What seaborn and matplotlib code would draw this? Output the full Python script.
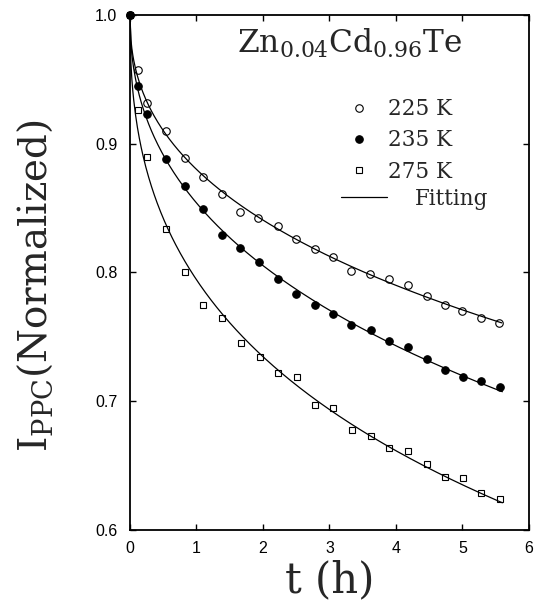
import numpy as np
import pandas as pd
import matplotlib
matplotlib.use("Agg")
import matplotlib.pyplot as plt
from matplotlib.lines import Line2D
import seaborn as sns

# Persistent photoconductivity decay, Zn0.04Cd0.96Te
t_225 = [0, 0.12, 0.25, 0.54, 0.82, 1.10, 1.38, 1.65, 1.93, 2.22, 2.50,
         2.78, 3.05, 3.33, 3.61, 3.89, 4.18, 4.46, 4.73, 5.00, 5.28, 5.55]
i_225 = [1.0, 0.957, 0.932, 0.910, 0.889, 0.874, 0.861, 0.847, 0.842, 0.836, 0.826,
         0.818, 0.812, 0.801, 0.799, 0.795, 0.790, 0.782, 0.775, 0.770, 0.765, 0.761]

t_235 = [0, 0.12, 0.25, 0.54, 0.82, 1.10, 1.39, 1.66, 1.94, 2.22, 2.50,
         2.78, 3.05, 3.33, 3.62, 3.90, 4.18, 4.46, 4.73, 5.01, 5.28, 5.56]
i_235 = [1.0, 0.945, 0.923, 0.888, 0.867, 0.849, 0.829, 0.819, 0.808, 0.795, 0.783,
         0.775, 0.768, 0.759, 0.755, 0.747, 0.742, 0.733, 0.724, 0.719, 0.716, 0.711]

t_275 = [0, 0.12, 0.26, 0.54, 0.82, 1.10, 1.39, 1.67, 1.95, 2.23, 2.51,
         2.78, 3.06, 3.34, 3.62, 3.90, 4.18, 4.46, 4.74, 5.01, 5.28, 5.56]
i_275 = [1.0, 0.926, 0.890, 0.834, 0.800, 0.775, 0.765, 0.745, 0.734, 0.722, 0.719,
         0.697, 0.695, 0.678, 0.673, 0.664, 0.661, 0.651, 0.641, 0.640, 0.629, 0.624]

labels = ["225 K", "235 K", "275 K"]
x_ticks = [0, 1, 2, 3, 4, 5, 6]
y_ticks = [0.6, 0.7, 0.8, 0.9, 1.0]
y_ticklabels = ["0.6", "0.7", "0.8", "0.9", "1.0"]

sns.set_style("ticks")
plt.rcParams["font.family"] = ["DejaVu Serif"]
plt.rcParams["mathtext.fontset"] = "dejavuserif"

fig = plt.figure(figsize=(5.34, 6.05), dpi=100)
ax = fig.add_axes([0.2434, 0.1240, 0.7472, 0.8512])


def stretched_fit(t, i):
    """Least-squares fit of I = exp(-(t/tau)^beta) by a grid search."""
    t = np.asarray(t, float)
    i = np.asarray(i, float)
    taus = np.logspace(-1, 4, 1500)[:, None]
    best = (np.inf, 1.0, 1.0)
    for beta in np.linspace(0.2, 1.0, 401):
        model = np.exp(-(t[None, :] / taus) ** beta)
        sse = ((model - i[None, :]) ** 2).sum(axis=1)
        k = int(np.argmin(sse))
        if sse[k] < best[0]:
            best = (sse[k], beta, taus[k, 0])
    _, beta, tau = best
    tt = np.linspace(0, t.max() + 0.04, 400)
    return tt, np.exp(-(tt / tau) ** beta)


series = [(t_225, i_225), (t_235, i_235), (t_275, i_275)]
for t, i in series:
    tt, ff = stretched_fit(t, i)
    sns.lineplot(x=tt, y=ff, ax=ax, color="black", linewidth=0.9, sort=False)

marker_styles = [
    dict(marker="o", markerfacecolor="none", markersize=5.4),
    dict(marker="o", markerfacecolor="black", markersize=5.4),
    dict(marker="s", markerfacecolor="none", markersize=5.0),
]
for (t, i), st in zip(series, marker_styles):
    df = pd.DataFrame({"t": t, "I": i})
    sns.lineplot(data=df, x="t", y="I", ax=ax, linestyle="", color="black",
                 markeredgecolor="black", markeredgewidth=0.8, clip_on=False, **st)

ax.set_xlim(0, 6)
ax.set_ylim(0.6, 1.0)
ax.set_xticks(x_ticks)
ax.set_yticks(y_ticks)
ax.set_yticklabels(y_ticklabels)
for lab in ax.get_xticklabels() + ax.get_yticklabels():
    lab.set_fontfamily("Liberation Sans")
    lab.set_fontsize(11.5)
ax.tick_params(direction="in", length=4, width=1.0, top=True, right=True,
               colors="black")
ax.tick_params(axis="x", pad=8)
ax.tick_params(axis="y", pad=9)
for sp in ax.spines.values():
    sp.set_linewidth(1.3)
    sp.set_color("black")

ax.set_xlabel("t (h)", fontsize=30, labelpad=2)
ax.set_ylabel(r"$\mathregular{I_{PPC}}$(Normalized)", fontsize=28)
ax.yaxis.set_label_coords(-0.188, 0.474)

ax.text(0.268, 0.926, r"$\mathregular{Zn_{0.04}Cd_{0.96}Te}$", transform=ax.transAxes,
        fontsize=22.5, va="baseline", ha="left")

# Legend: data symbols, then the fitted-curve key
sym_handles = [Line2D([], [], linestyle="", color="black", markeredgecolor="black",
                      markeredgewidth=0.8, **st) for st in marker_styles]
leg1 = ax.legend(sym_handles, labels, loc="upper left",
                 bbox_to_anchor=(0.533, 0.838), frameon=False, fontsize=15.5,
                 handlelength=1.5, handletextpad=0.6, labelspacing=0.42,
                 borderpad=0, borderaxespad=0)
ax.add_artist(leg1)
fit_handle = Line2D([], [], color="black", linewidth=0.9)
ax.legend([fit_handle], ["Fitting"], loc="upper left",
          bbox_to_anchor=(0.53, 0.665), frameon=False, fontsize=15.5,
          handlelength=2.1, handletextpad=1.3, borderpad=0, borderaxespad=0)

fig.savefig("out.png", dpi=100)
